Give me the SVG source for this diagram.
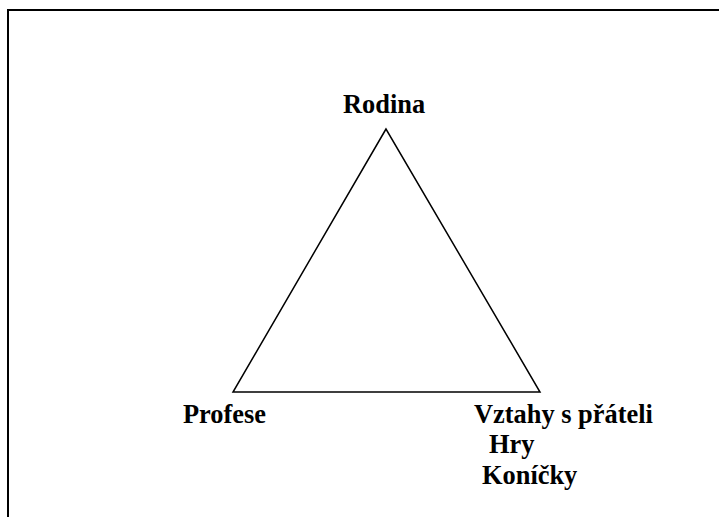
<svg xmlns="http://www.w3.org/2000/svg" width="719" height="517" viewBox="0 0 719 517">
<style>
.lbl{font-family:"Liberation Serif","Times New Roman",serif;font-weight:bold;font-size:26.4px;fill:#000}
</style>
<rect x="0" y="0" width="719" height="517" fill="#fff"/>
<g id="frame"><path d="M8,517 V10 H719" fill="none" stroke="#000" stroke-width="2"/></g>
<g id="connectors"><polygon points="386,129 233,392 540,392" fill="none" stroke="#000" stroke-width="1.5"/></g>
<g id="rodina"><text class="lbl" x="343" y="113">Rodina</text></g>
<g id="profese"><text class="lbl" x="183" y="423">Profese</text></g>
<g id="vztahy"><text class="lbl" x="474" y="423">Vztahy s přáteli</text><text class="lbl" x="489" y="453">Hry</text><text class="lbl" x="482" y="484">Koníčky</text></g>
</svg>
